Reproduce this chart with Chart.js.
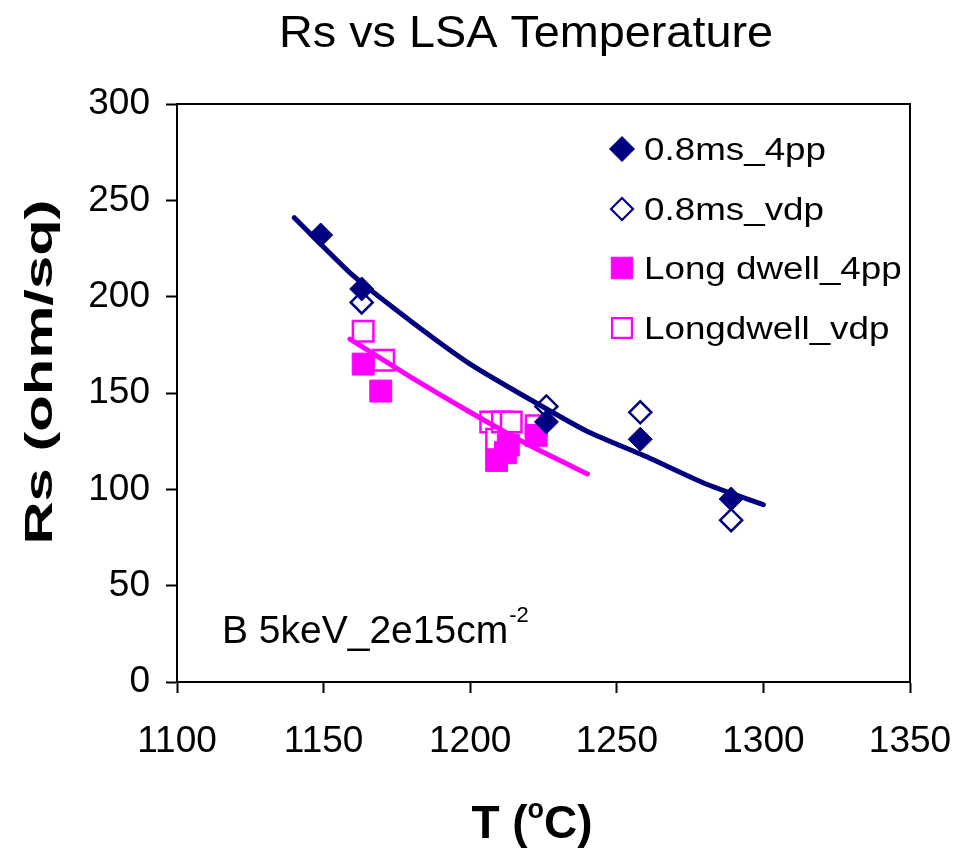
<!DOCTYPE html>
<html>
<head>
<meta charset="utf-8">
<script src="https://cdn.jsdelivr.net/npm/chart.js@4/dist/chart.umd.min.js"></script>
<style>
    html, body { margin: 0; padding: 0; background: #fff; }
    #wrap { width: 960px; height: 848px; }
</style>
</head>
<body>
<div id="wrap"><canvas id="rsChart" width="960" height="848"></canvas></div>
<script>
// measured data (T in degC, Rs in ohm/sq)
const tFast4pp = [1149, 1163, 1226, 1258, 1289];
const rsFast4pp = [232, 204, 135, 126, 95];

const tFastVdp = [1163, 1226, 1258, 1289];
const rsFastVdp = [197, 143, 140, 84];

const tLong4pp = [1163.5, 1169.5, 1209, 1212, 1213, 1222.5];
const rsLong4pp = [165, 151, 115, 119, 123, 128];

const tLongVdp = [1163.5, 1170.5, 1207, 1209, 1211, 1214, 1222.5];
const rsLongVdp = [182, 167, 135, 126, 135, 135, 133];

// trend lines
const tFastTrend = [1140, 1160, 1180, 1200, 1220, 1240, 1260, 1280, 1300];
const rsFastTrend = [241, 211, 187, 165, 147, 130, 117, 103, 92];

const tLongTrend = [1159, 1180, 1200, 1220, 1240];
const rsLongTrend = [178, 158, 140, 123, 108];

const xTicks = [1100, 1150, 1200, 1250, 1300, 1350];
const yTicks = [0, 50, 100, 150, 200, 250, 300];

const NAVY = "#000080";
const PINK = "#FF00FF";
const FONT = "'Liberation Sans', Arial, sans-serif";

function pts(xs, ys) {
    return xs.map(function (x, i) { return { x: x, y: ys[i] }; });
}

function scaledText(ctx, text, x, y, font, sx, align) {
    ctx.save();
    ctx.font = font;
    ctx.textAlign = align || "left";
    ctx.textBaseline = "alphabetic";
    ctx.translate(x, y);
    ctx.scale(sx, 1);
    ctx.fillText(text, 0, 0);
    ctx.restore();
}

const decorPlugin = {
    id: "decor",
    afterDraw: function (chart) {
        const ctx = chart.ctx;
        const area = chart.chartArea;
        ctx.save();
        ctx.fillStyle = "#000";

        // frame
        ctx.strokeStyle = "#000";
        ctx.lineWidth = 2;
        ctx.strokeRect(area.left, area.top, area.right - area.left, area.bottom - area.top);

        // title
        ctx.font = "45px " + FONT;
        let w = ctx.measureText("Rs vs LSA Temperature").width;
        scaledText(ctx, "Rs vs LSA Temperature", 526, 47, "45px " + FONT, 494 / w, "center");

        // x axis title with superscript o
        const big = "bold 46px " + FONT;
        const sup = "bold 27px " + FONT;
        ctx.font = big;
        const wA = ctx.measureText("T (").width;
        const wC = ctx.measureText("C)").width;
        ctx.font = sup;
        const wO = ctx.measureText("o").width;
        let x0 = 532 - (wA + wO + wC) / 2;
        scaledText(ctx, "T (", x0, 838, big, 1);
        scaledText(ctx, "o", x0 + wA, 818, sup, 1);
        scaledText(ctx, "C)", x0 + wA + wO, 838, big, 1);

        // y axis title, rotated
        ctx.save();
        ctx.font = "bold 38px " + FONT;
        w = ctx.measureText("Rs (ohm/sq)").width;
        ctx.translate(52, 372);
        ctx.rotate(-Math.PI / 2);
        ctx.scale(345 / w, 1);
        ctx.textAlign = "center";
        ctx.fillText("Rs (ohm/sq)", 0, 0);
        ctx.restore();

        // note inside the plot
        const noteFont = "39px " + FONT;
        ctx.font = noteFont;
        const wn = ctx.measureText("B 5keV_2e15cm").width;
        scaledText(ctx, "B 5keV_2e15cm", 222, 643, noteFont, 1);
        scaledText(ctx, "-2", 222 + wn + 1, 622, "22px " + FONT, 1);

        // legend
        const legFont = "31px " + FONT;
        ctx.font = legFont;
        const sx = 182 / ctx.measureText("0.8ms_4pp").width;
        const rows = [149, 209, 268, 328];
        const items = chart.data.datasets.filter(function (d) { return d.legend; });
        items.forEach(function (d, i) {
            const y = rows[i];
            ctx.fillStyle = d.backgroundColor;
            ctx.strokeStyle = d.borderColor;
            ctx.lineWidth = d.legend.bw;
            Chart.helpers.drawPoint(ctx, {
                pointStyle: d.pointStyle, radius: d.legend.r, rotation: 0, borderWidth: d.legend.bw
            }, 622, y);
            ctx.fillStyle = "#000";
            scaledText(ctx, d.label, 644, y + 11, legFont, sx);
        });
        ctx.restore();
    }
};

const tickFont = { family: FONT, size: 37 };
const plainLabel = function (v) { return String(v); };

new Chart(document.getElementById("rsChart"), {
    type: "scatter",
    data: {
        datasets: [
            {
                type: "line", label: "fast trend", data: pts(tFastTrend, rsFastTrend),
                borderColor: NAVY, borderWidth: 5, pointRadius: 0, tension: 0.2,
                borderCapStyle: "round", fill: false, order: 0
            },
            {
                type: "line", label: "long trend", data: pts(tLongTrend, rsLongTrend),
                borderColor: PINK, borderWidth: 5, pointRadius: 0, tension: 0.2,
                borderCapStyle: "round", fill: false, order: 0
            },
            {
                label: "0.8ms_4pp", data: pts(tFast4pp, rsFast4pp),
                pointStyle: "rectRot", pointRadius: 12, borderWidth: 1,
                backgroundColor: NAVY, borderColor: NAVY, order: 1,
                legend: { r: 12.5, bw: 1 }
            },
            {
                label: "0.8ms_vdp", data: pts(tFastVdp, rsFastVdp),
                pointStyle: "rectRot", pointRadius: 11, borderWidth: 2.5,
                backgroundColor: "#fff", borderColor: NAVY, order: 2,
                legend: { r: 11, bw: 2.2 }
            },
            {
                label: "Long dwell_4pp", data: pts(tLong4pp, rsLong4pp),
                pointStyle: "rect", pointRadius: 15.5, borderWidth: 1,
                backgroundColor: PINK, borderColor: PINK, order: 1,
                legend: { r: 15.2, bw: 1 }
            },
            {
                label: "Longdwell_vdp", data: pts(tLongVdp, rsLongVdp),
                pointStyle: "rect", pointRadius: 14.5, borderWidth: 2.5,
                backgroundColor: "#fff", borderColor: PINK, order: 2,
                legend: { r: 14, bw: 2.2 }
            }
        ]
    },
    options: {
        responsive: false,
        animation: false,
        devicePixelRatio: 1,
        layout: { padding: { top: 104, right: 50, left: 0, bottom: 0 } },
        plugins: {
            legend: { display: false },
            title: { display: false },
            tooltip: { enabled: false }
        },
        scales: {
            x: {
                type: "linear", min: 1100, max: 1350,
                afterFit: function (s) { s.height = 166; s.paddingLeft = 0; s.paddingRight = 0; },
                afterBuildTicks: function (s) { s.ticks = xTicks.map(function (v) { return { value: v }; }); },
                ticks: { color: "#000", font: tickFont, padding: 27, maxRotation: 0, callback: plainLabel },
                grid: { drawOnChartArea: false, drawTicks: true, tickLength: 11, color: "#000", tickWidth: 2 },
                border: { display: true, color: "#000", width: 2 }
            },
            y: {
                type: "linear", min: 0, max: 300,
                afterFit: function (s) { s.width = 177; s.paddingTop = 0; s.paddingBottom = 0; },
                afterBuildTicks: function (s) { s.ticks = yTicks.map(function (v) { return { value: v }; }); },
                ticks: { color: "#000", font: tickFont, padding: 16, callback: plainLabel },
                grid: { drawOnChartArea: false, drawTicks: true, tickLength: 11, color: "#000", tickWidth: 2 },
                border: { display: true, color: "#000", width: 2 }
            }
        }
    },
    plugins: [decorPlugin]
});
</script>
</body>
</html>
